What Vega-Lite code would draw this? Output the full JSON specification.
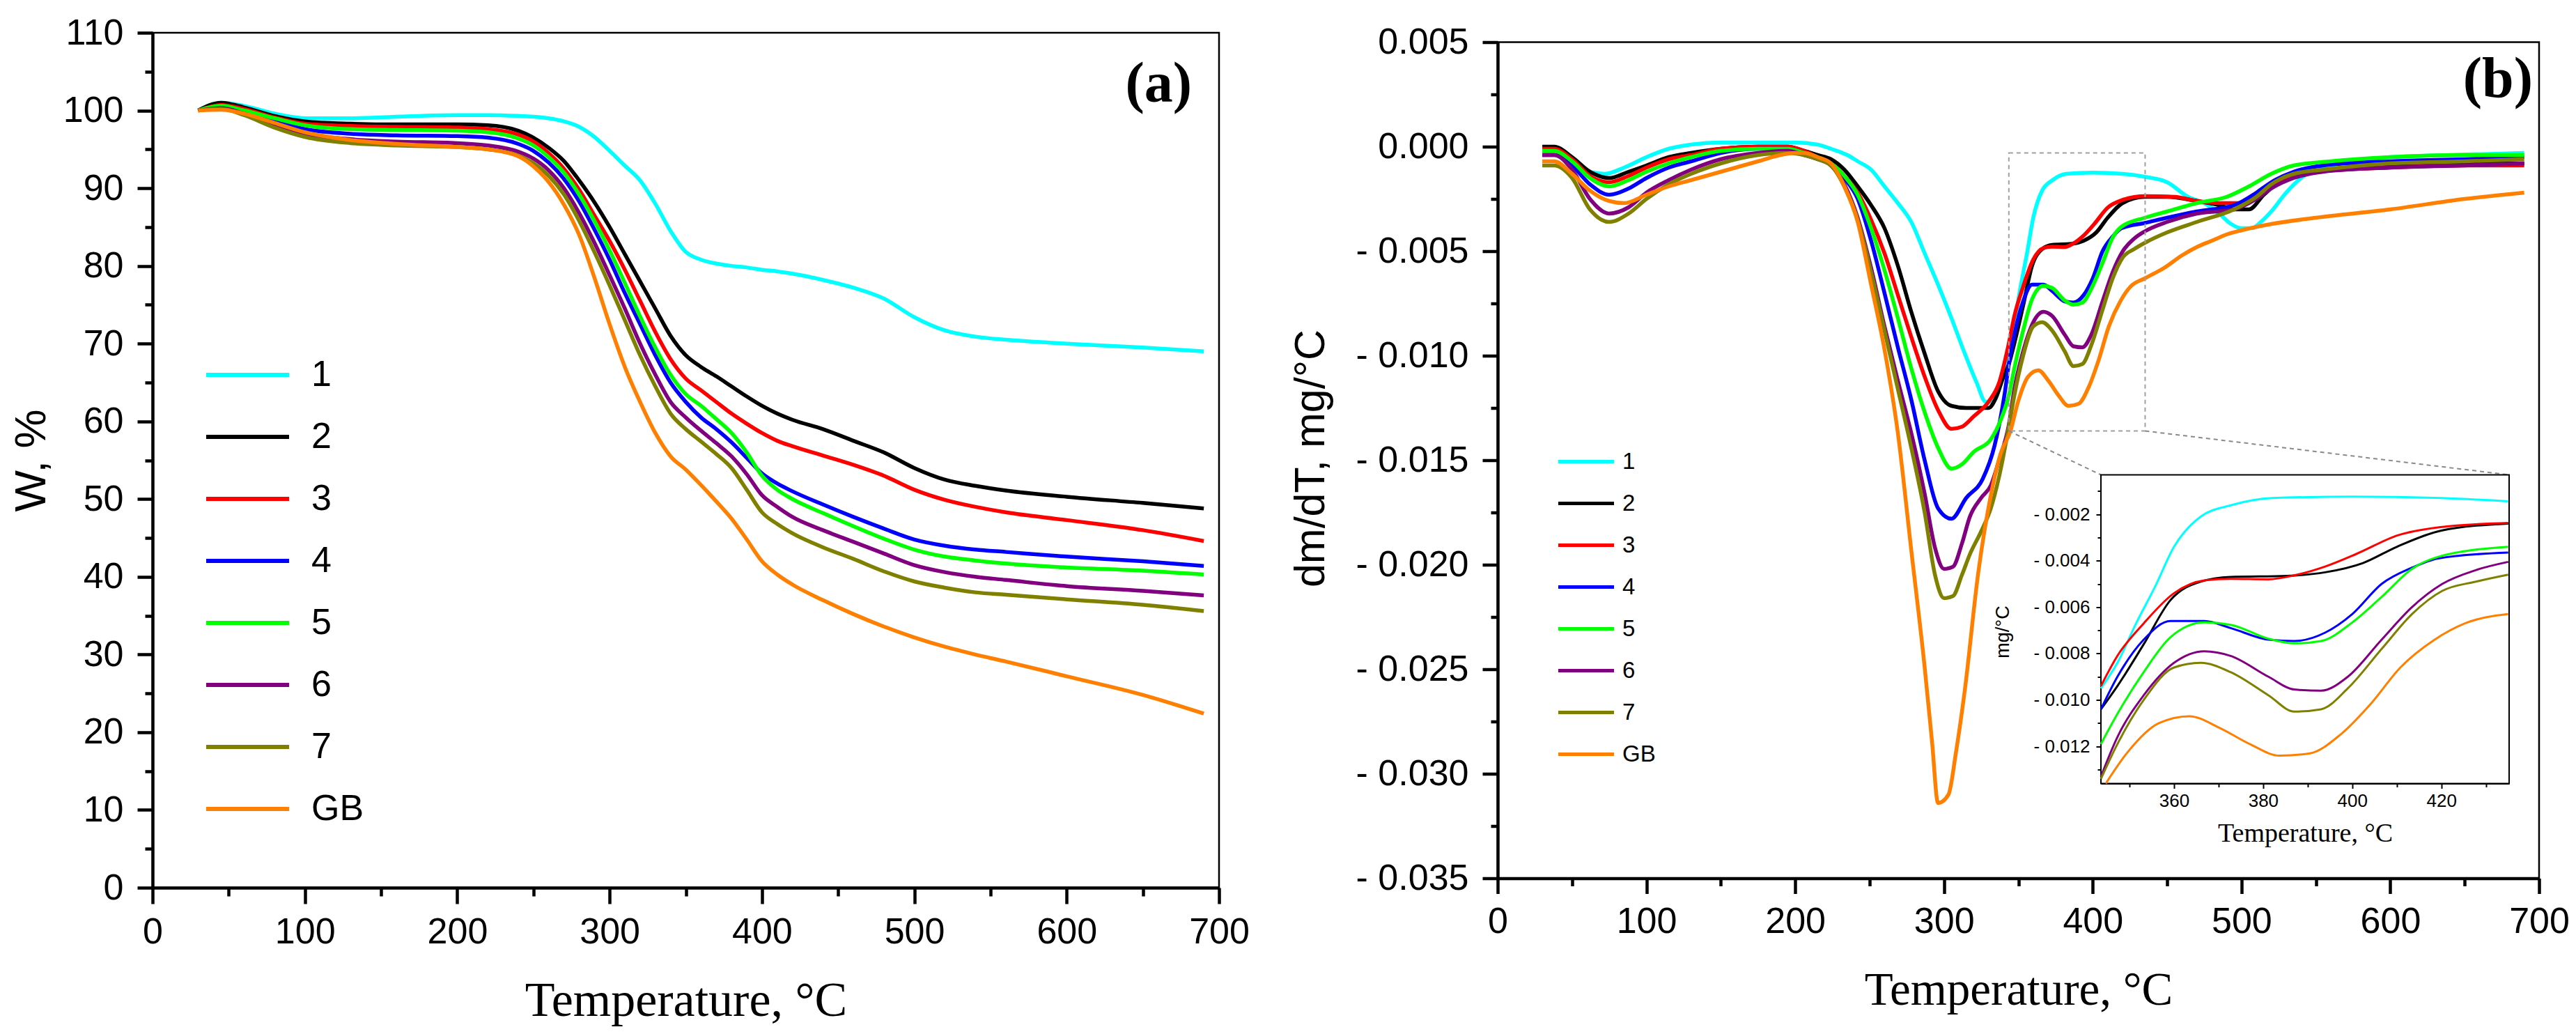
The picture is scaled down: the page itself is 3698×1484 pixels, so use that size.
{
  "$schema": "https://vega.github.io/schema/vega-lite/v6.json",
  "padding": {"left": 12, "top": 19, "right": 5, "bottom": 5},
  "background": "white",
  "datasets": {
    "tga": [
      {"s":"1","t":30,"w":100},{"s":"1","t":45,"w":101},{"s":"1","t":60,"w":100.6},{"s":"1","t":80,"w":99.6},{"s":"1","t":100,"w":99.0},{"s":"1","t":130,"w":99.0},{"s":"1","t":160,"w":99.2},{"s":"1","t":200,"w":99.4},{"s":"1","t":220,"w":99.4},{"s":"1","t":240,"w":99.3},{"s":"1","t":250,"w":99.2},{"s":"1","t":260,"w":99.0},{"s":"1","t":270,"w":98.6},{"s":"1","t":280,"w":97.9},{"s":"1","t":290,"w":96.6},{"s":"1","t":300,"w":94.8},{"s":"1","t":310,"w":92.9},{"s":"1","t":320,"w":91.0},{"s":"1","t":330,"w":88.0},{"s":"1","t":340,"w":84.5},{"s":"1","t":350,"w":81.8},{"s":"1","t":360,"w":80.8},{"s":"1","t":370,"w":80.3},{"s":"1","t":380,"w":80.0},{"s":"1","t":390,"w":79.8},{"s":"1","t":400,"w":79.5},{"s":"1","t":410,"w":79.3},{"s":"1","t":420,"w":79.0},{"s":"1","t":440,"w":78.2},{"s":"1","t":460,"w":77.2},{"s":"1","t":480,"w":75.8},{"s":"1","t":500,"w":73.4},{"s":"1","t":520,"w":71.7},{"s":"1","t":540,"w":70.9},{"s":"1","t":560,"w":70.5},{"s":"1","t":600,"w":70.0},{"s":"1","t":650,"w":69.5},{"s":"1","t":690,"w":69.0},
      {"s":"2","t":30,"w":100},{"s":"2","t":45,"w":101},{"s":"2","t":60,"w":100.4},{"s":"2","t":80,"w":99.3},{"s":"2","t":100,"w":98.6},{"s":"2","t":130,"w":98.3},{"s":"2","t":160,"w":98.2},{"s":"2","t":200,"w":98.2},{"s":"2","t":220,"w":98.1},{"s":"2","t":240,"w":97.4},{"s":"2","t":250,"w":96.5},{"s":"2","t":260,"w":95.2},{"s":"2","t":270,"w":93.5},{"s":"2","t":280,"w":91.0},{"s":"2","t":290,"w":88.2},{"s":"2","t":300,"w":85.0},{"s":"2","t":310,"w":81.5},{"s":"2","t":320,"w":78.0},{"s":"2","t":330,"w":74.5},{"s":"2","t":340,"w":71.0},{"s":"2","t":350,"w":68.5},{"s":"2","t":360,"w":67.0},{"s":"2","t":370,"w":65.8},{"s":"2","t":380,"w":64.5},{"s":"2","t":390,"w":63.2},{"s":"2","t":400,"w":62.0},{"s":"2","t":410,"w":61.0},{"s":"2","t":420,"w":60.2},{"s":"2","t":440,"w":59.0},{"s":"2","t":460,"w":57.5},{"s":"2","t":480,"w":56.0},{"s":"2","t":500,"w":54.0},{"s":"2","t":520,"w":52.5},{"s":"2","t":540,"w":51.7},{"s":"2","t":560,"w":51.1},{"s":"2","t":600,"w":50.3},{"s":"2","t":650,"w":49.5},{"s":"2","t":690,"w":48.8},
      {"s":"3","t":30,"w":100},{"s":"3","t":45,"w":100.7},{"s":"3","t":60,"w":100.2},{"s":"3","t":80,"w":99.1},{"s":"3","t":100,"w":98.3},{"s":"3","t":130,"w":98.0},{"s":"3","t":160,"w":97.9},{"s":"3","t":200,"w":97.8},{"s":"3","t":220,"w":97.6},{"s":"3","t":240,"w":96.9},{"s":"3","t":250,"w":96.0},{"s":"3","t":260,"w":94.5},{"s":"3","t":270,"w":92.5},{"s":"3","t":280,"w":89.8},{"s":"3","t":290,"w":86.5},{"s":"3","t":300,"w":83.2},{"s":"3","t":310,"w":79.5},{"s":"3","t":320,"w":75.5},{"s":"3","t":330,"w":71.5},{"s":"3","t":340,"w":68.0},{"s":"3","t":350,"w":65.5},{"s":"3","t":360,"w":64.0},{"s":"3","t":370,"w":62.5},{"s":"3","t":380,"w":61.0},{"s":"3","t":390,"w":59.7},{"s":"3","t":400,"w":58.5},{"s":"3","t":410,"w":57.5},{"s":"3","t":420,"w":56.8},{"s":"3","t":440,"w":55.6},{"s":"3","t":460,"w":54.4},{"s":"3","t":480,"w":53.0},{"s":"3","t":500,"w":51.2},{"s":"3","t":520,"w":49.9},{"s":"3","t":540,"w":49.0},{"s":"3","t":560,"w":48.3},{"s":"3","t":600,"w":47.3},{"s":"3","t":650,"w":46.0},{"s":"3","t":690,"w":44.6},
      {"s":"4","t":30,"w":100},{"s":"4","t":45,"w":100.5},{"s":"4","t":60,"w":99.9},{"s":"4","t":80,"w":98.7},{"s":"4","t":100,"w":97.6},{"s":"4","t":130,"w":97.0},{"s":"4","t":160,"w":96.8},{"s":"4","t":200,"w":96.7},{"s":"4","t":220,"w":96.5},{"s":"4","t":240,"w":95.7},{"s":"4","t":250,"w":94.8},{"s":"4","t":260,"w":93.3},{"s":"4","t":270,"w":91.2},{"s":"4","t":280,"w":88.3},{"s":"4","t":290,"w":84.7},{"s":"4","t":300,"w":80.8},{"s":"4","t":310,"w":76.5},{"s":"4","t":320,"w":72.5},{"s":"4","t":330,"w":68.5},{"s":"4","t":340,"w":65.0},{"s":"4","t":350,"w":62.5},{"s":"4","t":360,"w":60.5},{"s":"4","t":370,"w":59.0},{"s":"4","t":380,"w":57.3},{"s":"4","t":390,"w":55.3},{"s":"4","t":400,"w":53.3},{"s":"4","t":410,"w":52.0},{"s":"4","t":420,"w":51.0},{"s":"4","t":440,"w":49.3},{"s":"4","t":460,"w":47.7},{"s":"4","t":480,"w":46.2},{"s":"4","t":500,"w":44.8},{"s":"4","t":520,"w":44.0},{"s":"4","t":540,"w":43.5},{"s":"4","t":560,"w":43.2},{"s":"4","t":600,"w":42.6},{"s":"4","t":650,"w":42.0},{"s":"4","t":690,"w":41.4},
      {"s":"5","t":30,"w":100},{"s":"5","t":45,"w":100.6},{"s":"5","t":60,"w":100.0},{"s":"5","t":80,"w":99.0},{"s":"5","t":100,"w":98.1},{"s":"5","t":130,"w":97.6},{"s":"5","t":160,"w":97.5},{"s":"5","t":200,"w":97.4},{"s":"5","t":220,"w":97.2},{"s":"5","t":240,"w":96.4},{"s":"5","t":250,"w":95.5},{"s":"5","t":260,"w":94.0},{"s":"5","t":270,"w":92.0},{"s":"5","t":280,"w":89.2},{"s":"5","t":290,"w":85.8},{"s":"5","t":300,"w":82.0},{"s":"5","t":310,"w":77.8},{"s":"5","t":320,"w":73.5},{"s":"5","t":330,"w":69.5},{"s":"5","t":340,"w":66.0},{"s":"5","t":350,"w":63.5},{"s":"5","t":360,"w":62.0},{"s":"5","t":370,"w":60.3},{"s":"5","t":380,"w":58.5},{"s":"5","t":390,"w":56.0},{"s":"5","t":400,"w":53.0},{"s":"5","t":410,"w":51.2},{"s":"5","t":420,"w":50.0},{"s":"5","t":440,"w":48.2},{"s":"5","t":460,"w":46.5},{"s":"5","t":480,"w":44.9},{"s":"5","t":500,"w":43.5},{"s":"5","t":520,"w":42.6},{"s":"5","t":540,"w":42.1},{"s":"5","t":560,"w":41.7},{"s":"5","t":600,"w":41.2},{"s":"5","t":650,"w":40.8},{"s":"5","t":690,"w":40.3},
      {"s":"6","t":30,"w":100},{"s":"6","t":45,"w":100.3},{"s":"6","t":60,"w":99.6},{"s":"6","t":80,"w":98.2},{"s":"6","t":100,"w":97.0},{"s":"6","t":130,"w":96.3},{"s":"6","t":160,"w":96.0},{"s":"6","t":200,"w":95.8},{"s":"6","t":220,"w":95.5},{"s":"6","t":240,"w":94.7},{"s":"6","t":250,"w":93.8},{"s":"6","t":260,"w":92.3},{"s":"6","t":270,"w":90.0},{"s":"6","t":280,"w":86.8},{"s":"6","t":290,"w":83.0},{"s":"6","t":300,"w":78.8},{"s":"6","t":310,"w":74.5},{"s":"6","t":320,"w":70.0},{"s":"6","t":330,"w":66.0},{"s":"6","t":340,"w":62.5},{"s":"6","t":350,"w":60.5},{"s":"6","t":360,"w":58.8},{"s":"6","t":370,"w":57.2},{"s":"6","t":380,"w":55.5},{"s":"6","t":390,"w":53.2},{"s":"6","t":400,"w":50.5},{"s":"6","t":410,"w":49.0},{"s":"6","t":420,"w":47.7},{"s":"6","t":440,"w":46.0},{"s":"6","t":460,"w":44.5},{"s":"6","t":480,"w":43.0},{"s":"6","t":500,"w":41.5},{"s":"6","t":520,"w":40.6},{"s":"6","t":540,"w":40.0},{"s":"6","t":560,"w":39.6},{"s":"6","t":600,"w":38.8},{"s":"6","t":650,"w":38.2},{"s":"6","t":690,"w":37.6},
      {"s":"7","t":30,"w":100},{"s":"7","t":45,"w":100.2},{"s":"7","t":60,"w":99.4},{"s":"7","t":80,"w":97.8},{"s":"7","t":100,"w":96.6},{"s":"7","t":130,"w":95.8},{"s":"7","t":160,"w":95.5},{"s":"7","t":200,"w":95.3},{"s":"7","t":220,"w":95.0},{"s":"7","t":240,"w":94.2},{"s":"7","t":250,"w":93.2},{"s":"7","t":260,"w":91.6},{"s":"7","t":270,"w":89.2},{"s":"7","t":280,"w":85.8},{"s":"7","t":290,"w":81.8},{"s":"7","t":300,"w":77.5},{"s":"7","t":310,"w":73.0},{"s":"7","t":320,"w":68.5},{"s":"7","t":330,"w":64.5},{"s":"7","t":340,"w":61.0},{"s":"7","t":350,"w":59.0},{"s":"7","t":360,"w":57.4},{"s":"7","t":370,"w":55.8},{"s":"7","t":380,"w":54.0},{"s":"7","t":390,"w":51.2},{"s":"7","t":400,"w":48.3},{"s":"7","t":410,"w":46.8},{"s":"7","t":420,"w":45.6},{"s":"7","t":440,"w":43.8},{"s":"7","t":460,"w":42.3},{"s":"7","t":480,"w":40.7},{"s":"7","t":500,"w":39.4},{"s":"7","t":520,"w":38.6},{"s":"7","t":540,"w":38.0},{"s":"7","t":560,"w":37.7},{"s":"7","t":600,"w":37.1},{"s":"7","t":650,"w":36.4},{"s":"7","t":690,"w":35.6},
      {"s":"GB","t":30,"w":100},{"s":"GB","t":45,"w":100.1},{"s":"GB","t":60,"w":99.6},{"s":"GB","t":80,"w":98.4},{"s":"GB","t":100,"w":97.2},{"s":"GB","t":130,"w":96.2},{"s":"GB","t":160,"w":95.7},{"s":"GB","t":200,"w":95.3},{"s":"GB","t":220,"w":95.0},{"s":"GB","t":240,"w":94.1},{"s":"GB","t":250,"w":92.8},{"s":"GB","t":260,"w":90.8},{"s":"GB","t":270,"w":87.9},{"s":"GB","t":280,"w":84.0},{"s":"GB","t":290,"w":78.5},{"s":"GB","t":300,"w":72.5},{"s":"GB","t":310,"w":67.0},{"s":"GB","t":320,"w":62.5},{"s":"GB","t":330,"w":58.5},{"s":"GB","t":340,"w":55.5},{"s":"GB","t":350,"w":53.8},{"s":"GB","t":360,"w":51.8},{"s":"GB","t":370,"w":49.7},{"s":"GB","t":380,"w":47.5},{"s":"GB","t":390,"w":44.8},{"s":"GB","t":400,"w":42.0},{"s":"GB","t":410,"w":40.3},{"s":"GB","t":420,"w":39.0},{"s":"GB","t":440,"w":37.0},{"s":"GB","t":460,"w":35.2},{"s":"GB","t":480,"w":33.6},{"s":"GB","t":500,"w":32.2},{"s":"GB","t":520,"w":31.0},{"s":"GB","t":540,"w":30.0},{"s":"GB","t":560,"w":29.1},{"s":"GB","t":600,"w":27.2},{"s":"GB","t":650,"w":24.8},{"s":"GB","t":690,"w":22.4}
    ],
    "dtg": [
      {"s":"1","t":30,"v":-0.0003},{"s":"1","t":38,"v":-0.0003},{"s":"1","t":50,"v":-0.0007},{"s":"1","t":62,"v":-0.0012},{"s":"1","t":72,"v":-0.0013},{"s":"1","t":85,"v":-0.001},{"s":"1","t":100,"v":-0.0005},{"s":"1","t":115,"v":-0.0001},{"s":"1","t":130,"v":0.0001},{"s":"1","t":150,"v":0.0002},{"s":"1","t":175,"v":0.0002},{"s":"1","t":200,"v":0.0002},{"s":"1","t":215,"v":0.0001},{"s":"1","t":224,"v":-0.0001},{"s":"1","t":235,"v":-0.0004},{"s":"1","t":242,"v":-0.0007},{"s":"1","t":251,"v":-0.0011},{"s":"1","t":260,"v":-0.0019},{"s":"1","t":269,"v":-0.0027},{"s":"1","t":278,"v":-0.0036},{"s":"1","t":287,"v":-0.0051},{"s":"1","t":296,"v":-0.0066},{"s":"1","t":305,"v":-0.0082},{"s":"1","t":314,"v":-0.0099},{"s":"1","t":322,"v":-0.0113},{"s":"1","t":328,"v":-0.0122},{"s":"1","t":333,"v":-0.0122},{"s":"1","t":338,"v":-0.0113},{"s":"1","t":343.6,"v":-0.0095},{"s":"1","t":347.3,"v":-0.0084},{"s":"1","t":351.5,"v":-0.0067},{"s":"1","t":355.8,"v":-0.0051},{"s":"1","t":360,"v":-0.0034},{"s":"1","t":366,"v":-0.0021},{"s":"1","t":373,"v":-0.0016},{"s":"1","t":382,"v":-0.0013},{"s":"1","t":400,"v":-0.00124},{"s":"1","t":420,"v":-0.0013},{"s":"1","t":435,"v":-0.00144},{"s":"1","t":450,"v":-0.0017},{"s":"1","t":464,"v":-0.0024},{"s":"1","t":475,"v":-0.0027},{"s":"1","t":485,"v":-0.0032},{"s":"1","t":493,"v":-0.0037},{"s":"1","t":500,"v":-0.0039},{"s":"1","t":507,"v":-0.0039},{"s":"1","t":513,"v":-0.0036},{"s":"1","t":520,"v":-0.0031},{"s":"1","t":530,"v":-0.0022},{"s":"1","t":540,"v":-0.0015},{"s":"1","t":555,"v":-0.001},{"s":"1","t":575,"v":-0.0007},{"s":"1","t":600,"v":-0.0005},{"s":"1","t":640,"v":-0.0004},{"s":"1","t":690,"v":-0.0003},
      {"s":"2","t":30,"v":0},{"s":"2","t":38,"v":0},{"s":"2","t":50,"v":-0.0005},{"s":"2","t":62,"v":-0.0012},{"s":"2","t":75,"v":-0.0015},{"s":"2","t":88,"v":-0.0012},{"s":"2","t":100,"v":-0.0009},{"s":"2","t":115,"v":-0.0005},{"s":"2","t":130,"v":-0.0003},{"s":"2","t":150,"v":-0.0001},{"s":"2","t":175,"v":0},{"s":"2","t":195,"v":0},{"s":"2","t":206,"v":-0.0002},{"s":"2","t":215,"v":-0.0004},{"s":"2","t":224,"v":-0.0006},{"s":"2","t":233,"v":-0.0011},{"s":"2","t":242,"v":-0.0019},{"s":"2","t":251,"v":-0.0028},{"s":"2","t":260,"v":-0.0039},{"s":"2","t":269,"v":-0.0057},{"s":"2","t":278,"v":-0.0079},{"s":"2","t":287,"v":-0.0099},{"s":"2","t":296,"v":-0.0117},{"s":"2","t":305,"v":-0.0124},{"s":"2","t":315,"v":-0.0125},{"s":"2","t":325,"v":-0.0125},{"s":"2","t":330,"v":-0.0125},{"s":"2","t":335,"v":-0.012},{"s":"2","t":340,"v":-0.011},{"s":"2","t":343.6,"v":-0.0104},{"s":"2","t":347.3,"v":-0.0094},{"s":"2","t":353.2,"v":-0.0076},{"s":"2","t":359.2,"v":-0.0057},{"s":"2","t":366,"v":-0.0049},{"s":"2","t":372.7,"v":-0.0047},{"s":"2","t":385.4,"v":-0.00465},{"s":"2","t":393.9,"v":-0.0045},{"s":"2","t":402.4,"v":-0.0041},{"s":"2","t":410,"v":-0.0034},{"s":"2","t":420,"v":-0.0027},{"s":"2","t":435,"v":-0.0024},{"s":"2","t":450,"v":-0.0024},{"s":"2","t":470,"v":-0.0026},{"s":"2","t":485,"v":-0.0028},{"s":"2","t":495,"v":-0.003},{"s":"2","t":505,"v":-0.003},{"s":"2","t":515,"v":-0.0023},{"s":"2","t":525,"v":-0.0017},{"s":"2","t":540,"v":-0.0013},{"s":"2","t":560,"v":-0.0011},{"s":"2","t":600,"v":-0.0009},{"s":"2","t":650,"v":-0.0008},{"s":"2","t":690,"v":-0.0008},
      {"s":"3","t":30,"v":-0.0001},{"s":"3","t":38,"v":-0.0001},{"s":"3","t":50,"v":-0.0006},{"s":"3","t":62,"v":-0.0014},{"s":"3","t":75,"v":-0.0017},{"s":"3","t":88,"v":-0.0014},{"s":"3","t":100,"v":-0.001},{"s":"3","t":115,"v":-0.0006},{"s":"3","t":130,"v":-0.0004},{"s":"3","t":150,"v":-0.0001},{"s":"3","t":175,"v":0},{"s":"3","t":195,"v":0},{"s":"3","t":206,"v":-0.0002},{"s":"3","t":215,"v":-0.0005},{"s":"3","t":224,"v":-0.0008},{"s":"3","t":233,"v":-0.0014},{"s":"3","t":242,"v":-0.0022},{"s":"3","t":251,"v":-0.0035},{"s":"3","t":260,"v":-0.0051},{"s":"3","t":269,"v":-0.0071},{"s":"3","t":278,"v":-0.0091},{"s":"3","t":287,"v":-0.011},{"s":"3","t":296,"v":-0.0126},{"s":"3","t":305,"v":-0.0135},{"s":"3","t":312,"v":-0.0134},{"s":"3","t":320,"v":-0.0129},{"s":"3","t":330,"v":-0.0122},{"s":"3","t":337,"v":-0.0113},{"s":"3","t":343.6,"v":-0.0094},{"s":"3","t":347.3,"v":-0.0081},{"s":"3","t":353.2,"v":-0.0067},{"s":"3","t":360,"v":-0.0054},{"s":"3","t":366.8,"v":-0.00485},{"s":"3","t":372.7,"v":-0.00478},{"s":"3","t":381.2,"v":-0.0048},{"s":"3","t":387,"v":-0.00463},{"s":"3","t":393.9,"v":-0.00425},{"s":"3","t":401,"v":-0.0037},{"s":"3","t":410.3,"v":-0.0029},{"s":"3","t":419.5,"v":-0.00256},{"s":"3","t":435,"v":-0.00237},{"s":"3","t":455,"v":-0.0024},{"s":"3","t":470,"v":-0.0026},{"s":"3","t":485,"v":-0.0027},{"s":"3","t":500,"v":-0.0027},{"s":"3","t":515,"v":-0.0021},{"s":"3","t":530,"v":-0.0015},{"s":"3","t":550,"v":-0.0012},{"s":"3","t":600,"v":-0.001},{"s":"3","t":650,"v":-0.0009},{"s":"3","t":690,"v":-0.0009},
      {"s":"4","t":30,"v":-0.0004},{"s":"4","t":38,"v":-0.0004},{"s":"4","t":50,"v":-0.0009},{"s":"4","t":62,"v":-0.0018},{"s":"4","t":75,"v":-0.0023},{"s":"4","t":88,"v":-0.002},{"s":"4","t":100,"v":-0.0015},{"s":"4","t":115,"v":-0.001},{"s":"4","t":130,"v":-0.0007},{"s":"4","t":150,"v":-0.0003},{"s":"4","t":175,"v":-0.0001},{"s":"4","t":195,"v":-0.0001},{"s":"4","t":206,"v":-0.0003},{"s":"4","t":215,"v":-0.0005},{"s":"4","t":224,"v":-0.0008},{"s":"4","t":233,"v":-0.0015},{"s":"4","t":242,"v":-0.0025},{"s":"4","t":251,"v":-0.0045},{"s":"4","t":260,"v":-0.007},{"s":"4","t":269,"v":-0.0096},{"s":"4","t":278,"v":-0.0121},{"s":"4","t":287,"v":-0.015},{"s":"4","t":296,"v":-0.0173},{"s":"4","t":305,"v":-0.0178},{"s":"4","t":315,"v":-0.0168},{"s":"4","t":326,"v":-0.0159},{"s":"4","t":334,"v":-0.0143},{"s":"4","t":340.6,"v":-0.0119},{"s":"4","t":343.6,"v":-0.0104},{"s":"4","t":347.3,"v":-0.009},{"s":"4","t":353.2,"v":-0.0074},{"s":"4","t":359.2,"v":-0.0066},{"s":"4","t":366.8,"v":-0.0066},{"s":"4","t":372.7,"v":-0.0069},{"s":"4","t":381.2,"v":-0.0074},{"s":"4","t":387,"v":-0.00746},{"s":"4","t":393.9,"v":-0.0071},{"s":"4","t":400,"v":-0.0063},{"s":"4","t":406.6,"v":-0.005},{"s":"4","t":413.4,"v":-0.0043},{"s":"4","t":419.3,"v":-0.0039},{"s":"4","t":435,"v":-0.00365},{"s":"4","t":450,"v":-0.0034},{"s":"4","t":470,"v":-0.0031},{"s":"4","t":495,"v":-0.0028},{"s":"4","t":510,"v":-0.0022},{"s":"4","t":520,"v":-0.0017},{"s":"4","t":535,"v":-0.0012},{"s":"4","t":555,"v":-0.0009},{"s":"4","t":600,"v":-0.0007},{"s":"4","t":650,"v":-0.0006},{"s":"4","t":690,"v":-0.0005},
      {"s":"5","t":30,"v":-0.0002},{"s":"5","t":38,"v":-0.0002},{"s":"5","t":50,"v":-0.0007},{"s":"5","t":62,"v":-0.0015},{"s":"5","t":75,"v":-0.0019},{"s":"5","t":88,"v":-0.0016},{"s":"5","t":100,"v":-0.0012},{"s":"5","t":115,"v":-0.0008},{"s":"5","t":130,"v":-0.0005},{"s":"5","t":150,"v":-0.0002},{"s":"5","t":175,"v":-0.0001},{"s":"5","t":195,"v":-0.0001},{"s":"5","t":206,"v":-0.0003},{"s":"5","t":215,"v":-0.0005},{"s":"5","t":224,"v":-0.0008},{"s":"5","t":233,"v":-0.0014},{"s":"5","t":242,"v":-0.0023},{"s":"5","t":251,"v":-0.0039},{"s":"5","t":260,"v":-0.0059},{"s":"5","t":269,"v":-0.0082},{"s":"5","t":278,"v":-0.0106},{"s":"5","t":287,"v":-0.0127},{"s":"5","t":296,"v":-0.0144},{"s":"5","t":305,"v":-0.0154},{"s":"5","t":312,"v":-0.0152},{"s":"5","t":320,"v":-0.0146},{"s":"5","t":331.5,"v":-0.014},{"s":"5","t":338,"v":-0.0131},{"s":"5","t":343.6,"v":-0.0119},{"s":"5","t":347.3,"v":-0.0106},{"s":"5","t":353.2,"v":-0.0088},{"s":"5","t":359.2,"v":-0.0073},{"s":"5","t":366.8,"v":-0.00666},{"s":"5","t":372.7,"v":-0.00676},{"s":"5","t":381.2,"v":-0.00736},{"s":"5","t":387,"v":-0.00756},{"s":"5","t":393,"v":-0.00746},{"s":"5","t":400,"v":-0.00666},{"s":"5","t":406.6,"v":-0.00556},{"s":"5","t":413.4,"v":-0.00435},{"s":"5","t":419.3,"v":-0.00383},{"s":"5","t":435,"v":-0.0034},{"s":"5","t":450,"v":-0.0031},{"s":"5","t":470,"v":-0.0027},{"s":"5","t":490,"v":-0.0024},{"s":"5","t":505,"v":-0.0019},{"s":"5","t":520,"v":-0.0013},{"s":"5","t":535,"v":-0.0009},{"s":"5","t":560,"v":-0.0007},{"s":"5","t":600,"v":-0.0005},{"s":"5","t":650,"v":-0.0004},{"s":"5","t":690,"v":-0.0004},
      {"s":"6","t":30,"v":-0.0004},{"s":"6","t":38,"v":-0.0004},{"s":"6","t":50,"v":-0.0011},{"s":"6","t":62,"v":-0.0025},{"s":"6","t":75,"v":-0.0032},{"s":"6","t":88,"v":-0.0029},{"s":"6","t":100,"v":-0.0022},{"s":"6","t":115,"v":-0.0016},{"s":"6","t":130,"v":-0.0011},{"s":"6","t":150,"v":-0.0006},{"s":"6","t":175,"v":-0.0003},{"s":"6","t":195,"v":-0.0002},{"s":"6","t":206,"v":-0.0004},{"s":"6","t":215,"v":-0.0006},{"s":"6","t":224,"v":-0.0009},{"s":"6","t":233,"v":-0.0018},{"s":"6","t":242,"v":-0.0034},{"s":"6","t":251,"v":-0.0058},{"s":"6","t":260,"v":-0.0086},{"s":"6","t":269,"v":-0.0112},{"s":"6","t":278,"v":-0.0137},{"s":"6","t":287,"v":-0.0166},{"s":"6","t":294,"v":-0.0192},{"s":"6","t":300,"v":-0.0202},{"s":"6","t":306,"v":-0.0201},{"s":"6","t":312,"v":-0.019},{"s":"6","t":317.4,"v":-0.0177},{"s":"6","t":325,"v":-0.0168},{"s":"6","t":331.5,"v":-0.0162},{"s":"6","t":337,"v":-0.015},{"s":"6","t":343.6,"v":-0.0133},{"s":"6","t":347.3,"v":-0.0116},{"s":"6","t":353.2,"v":-0.0098},{"s":"6","t":360,"v":-0.0084},{"s":"6","t":366.8,"v":-0.0079},{"s":"6","t":372.7,"v":-0.0081},{"s":"6","t":381.2,"v":-0.009},{"s":"6","t":387,"v":-0.00955},{"s":"6","t":393,"v":-0.0096},{"s":"6","t":399,"v":-0.009},{"s":"6","t":406.6,"v":-0.0074},{"s":"6","t":413.4,"v":-0.006},{"s":"6","t":420.2,"v":-0.005},{"s":"6","t":427.8,"v":-0.0044},{"s":"6","t":435,"v":-0.00405},{"s":"6","t":450,"v":-0.0036},{"s":"6","t":470,"v":-0.0032},{"s":"6","t":495,"v":-0.003},{"s":"6","t":510,"v":-0.0025},{"s":"6","t":520,"v":-0.002},{"s":"6","t":535,"v":-0.0015},{"s":"6","t":555,"v":-0.0012},{"s":"6","t":600,"v":-0.001},{"s":"6","t":650,"v":-0.0009},{"s":"6","t":690,"v":-0.0008},
      {"s":"7","t":30,"v":-0.0009},{"s":"7","t":38,"v":-0.0009},{"s":"7","t":50,"v":-0.0015},{"s":"7","t":62,"v":-0.003},{"s":"7","t":75,"v":-0.0036},{"s":"7","t":88,"v":-0.0032},{"s":"7","t":100,"v":-0.0025},{"s":"7","t":115,"v":-0.0018},{"s":"7","t":130,"v":-0.0013},{"s":"7","t":150,"v":-0.0008},{"s":"7","t":175,"v":-0.0004},{"s":"7","t":195,"v":-0.0003},{"s":"7","t":206,"v":-0.0004},{"s":"7","t":215,"v":-0.0006},{"s":"7","t":224,"v":-0.0009},{"s":"7","t":233,"v":-0.0019},{"s":"7","t":242,"v":-0.0035},{"s":"7","t":251,"v":-0.006},{"s":"7","t":260,"v":-0.0088},{"s":"7","t":269,"v":-0.0116},{"s":"7","t":278,"v":-0.0144},{"s":"7","t":287,"v":-0.0175},{"s":"7","t":294,"v":-0.0205},{"s":"7","t":300,"v":-0.0216},{"s":"7","t":306,"v":-0.0215},{"s":"7","t":312,"v":-0.0205},{"s":"7","t":317.4,"v":-0.0195},{"s":"7","t":325,"v":-0.0184},{"s":"7","t":331.5,"v":-0.0173},{"s":"7","t":337,"v":-0.0158},{"s":"7","t":343.6,"v":-0.0134},{"s":"7","t":347.3,"v":-0.0119},{"s":"7","t":353.2,"v":-0.01},{"s":"7","t":360,"v":-0.0086},{"s":"7","t":366,"v":-0.0084},{"s":"7","t":372.7,"v":-0.0088},{"s":"7","t":381.2,"v":-0.0098},{"s":"7","t":387,"v":-0.0105},{"s":"7","t":393,"v":-0.0104},{"s":"7","t":399,"v":-0.0095},{"s":"7","t":406.6,"v":-0.0078},{"s":"7","t":413.4,"v":-0.0063},{"s":"7","t":420.2,"v":-0.0053},{"s":"7","t":427.8,"v":-0.0049},{"s":"7","t":435,"v":-0.0046},{"s":"7","t":450,"v":-0.0041},{"s":"7","t":470,"v":-0.0036},{"s":"7","t":495,"v":-0.003},{"s":"7","t":510,"v":-0.0024},{"s":"7","t":520,"v":-0.0018},{"s":"7","t":535,"v":-0.0013},{"s":"7","t":555,"v":-0.0011},{"s":"7","t":600,"v":-0.0008},{"s":"7","t":650,"v":-0.0007},{"s":"7","t":690,"v":-0.0006},
      {"s":"GB","t":30,"v":-0.0007},{"s":"GB","t":38,"v":-0.0007},{"s":"GB","t":50,"v":-0.0013},{"s":"GB","t":62,"v":-0.0021},{"s":"GB","t":75,"v":-0.0026},{"s":"GB","t":85,"v":-0.0027},{"s":"GB","t":100,"v":-0.0023},{"s":"GB","t":115,"v":-0.0019},{"s":"GB","t":130,"v":-0.0016},{"s":"GB","t":150,"v":-0.0012},{"s":"GB","t":175,"v":-0.0007},{"s":"GB","t":190,"v":-0.0004},{"s":"GB","t":200,"v":-0.0003},{"s":"GB","t":206,"v":-0.0003},{"s":"GB","t":215,"v":-0.0005},{"s":"GB","t":224,"v":-0.0008},{"s":"GB","t":233,"v":-0.0019},{"s":"GB","t":242,"v":-0.0036},{"s":"GB","t":251,"v":-0.0066},{"s":"GB","t":260,"v":-0.0097},{"s":"GB","t":269,"v":-0.0137},{"s":"GB","t":278,"v":-0.0193},{"s":"GB","t":287,"v":-0.0249},{"s":"GB","t":292,"v":-0.0285},{"s":"GB","t":296,"v":-0.0314},{"s":"GB","t":303,"v":-0.031},{"s":"GB","t":308,"v":-0.029},{"s":"GB","t":314,"v":-0.026},{"s":"GB","t":323,"v":-0.0204},{"s":"GB","t":331.7,"v":-0.0166},{"s":"GB","t":338,"v":-0.0147},{"s":"GB","t":344.7,"v":-0.0136},{"s":"GB","t":349.8,"v":-0.0122},{"s":"GB","t":356.6,"v":-0.011},{"s":"GB","t":363.4,"v":-0.0107},{"s":"GB","t":370.2,"v":-0.0112},{"s":"GB","t":377,"v":-0.0119},{"s":"GB","t":383.7,"v":-0.0124},{"s":"GB","t":390.5,"v":-0.0123},{"s":"GB","t":397.3,"v":-0.0115},{"s":"GB","t":404,"v":-0.0102},{"s":"GB","t":410.8,"v":-0.0086},{"s":"GB","t":418.5,"v":-0.0074},{"s":"GB","t":425.3,"v":-0.0067},{"s":"GB","t":435,"v":-0.0063},{"s":"GB","t":448,"v":-0.0058},{"s":"GB","t":460,"v":-0.0052},{"s":"GB","t":470,"v":-0.0048},{"s":"GB","t":480,"v":-0.0045},{"s":"GB","t":490,"v":-0.0042},{"s":"GB","t":500,"v":-0.004},{"s":"GB","t":520,"v":-0.0037},{"s":"GB","t":550,"v":-0.0034},{"s":"GB","t":600,"v":-0.003},{"s":"GB","t":650,"v":-0.0025},{"s":"GB","t":690,"v":-0.0022}
    ]
  },
  "hconcat": [
    {
      "width": 1531,
      "height": 1227,
      "data": {"name": "tga"},
      "layer": [
        {
          "mark": {"type": "line", "strokeWidth": 5.5, "interpolate": "monotone"},
          "encoding": {
            "x": {"field": "t", "type": "quantitative", "scale": {"domain": [0, 700], "nice": false},
              "axis": {"orient": "bottom", "values": [0,100,200,300,400,500,600,700], "tickSize": 23, "labelPadding": 15, "labelFlush": false, "labelOverlap": false,
                "title": "Temperature, °C", "titleFont": "Liberation Serif", "titleFontSize": 70, "titleBaseline": "alphabetic", "titleX": 765.5, "titleY": 183}},
            "y": {"field": "w", "type": "quantitative", "scale": {"domain": [0, 110], "nice": false, "zero": false},
              "axis": {"orient": "left", "values": [0,10,20,30,40,50,60,70,80,90,100,110], "tickSize": 22, "labelPadding": 20, "labelFlush": false, "labelOverlap": false,
                "title": "W, %", "titleFont": "Liberation Sans", "titleFontSize": 63, "titleBaseline": "alphabetic", "titleX": -155, "titleY": 613.5}},
            "color": {"field": "s", "type": "nominal",
              "scale": {"domain": ["1","2","3","4","5","6","7","GB"], "range": ["#00FFFF","#000000","#FF0000","#0000FF","#00FF00","#800080","#808000","#FF8000"]},
              "legend": {"orient": "none", "legendX": 74, "legendY": 428.5, "title": null, "symbolType": "stroke", "symbolSize": 14161, "symbolStrokeWidth": 6, "rowPadding": -60.2, "labelFontSize": 52, "labelFont": "Liberation Sans", "labelOffset": 29, "padding": 0}}
          }
        },
        {
          "mark": {"type": "point", "opacity": 0},
          "encoding": {
            "x": {"field": "t", "type": "quantitative", "axis": {"orient": "bottom", "values": [50,150,250,350,450,550,650], "tickSize": 12, "labels": false, "domain": false, "title": null}},
            "y": {"field": "w", "type": "quantitative", "axis": {"orient": "left", "values": [5,15,25,35,45,55,65,75,85,95,105], "tickSize": 11, "labels": false, "domain": false, "title": null}}
          }
        },
        {
          "data": {"values": [{"lab": "(a)"}]},
          "mark": {"type": "text", "font": "Liberation Serif", "fontWeight": "bold", "fontSize": 82, "align": "right", "baseline": "middle", "dx": -39, "dy": 74, "color": "black"},
          "encoding": {
            "x": {"datum": 700, "type": "quantitative", "axis": null},
            "y": {"datum": 110, "type": "quantitative", "axis": null},
            "text": {"field": "lab"}
          }
        }
      ],
      "resolve": {"axis": {"x": "independent", "y": "independent"}}
    },
    {
      "width": 1495,
      "height": 1200,
      "data": {"name": "dtg"},
      "layer": [
        {
          "layer": [
            {
              "mark": {"type": "line", "strokeWidth": 5.5, "interpolate": "monotone"},
              "encoding": {
                "x": {"field": "t", "type": "quantitative", "scale": {"domain": [0, 700], "nice": false},
                  "axis": {"orient": "bottom", "values": [0,100,200,300,400,500,600,700], "tickSize": 22, "labelPadding": 15, "labelFlush": false, "labelOverlap": false,
                    "title": "Temperature, °C", "titleFont": "Liberation Serif", "titleFontSize": 67, "titleBaseline": "alphabetic", "titleX": 747.5, "titleY": 181}},
                "y": {"field": "v", "type": "quantitative", "scale": {"domain": [-0.035, 0.005], "nice": false, "zero": false},
                  "axis": {"orient": "left", "values": [0.005,0,-0.005,-0.01,-0.015,-0.02,-0.025,-0.03,-0.035], "tickSize": 22, "labelPadding": 20, "labelFlush": false, "labelOverlap": false,
                    "labelExpr": "datum.value < -0.000001 ? '- ' + format(-datum.value, '.3f') : format(datum.value, '.3f')",
                    "title": "dm/dT, mg/°C", "titleFont": "Liberation Sans", "titleFontSize": 61, "titleBaseline": "alphabetic", "titleX": -250, "titleY": 597}},
                "color": {"field": "s", "type": "nominal",
                  "scale": {"domain": ["1","2","3","4","5","6","7","GB"], "range": ["#00FFFF","#000000","#FF0000","#0000FF","#00FF00","#800080","#808000","#FF8000"]},
                  "legend": {"orient": "none", "legendX": 84.5, "legendY": 559.5, "title": null, "symbolType": "stroke", "symbolSize": 6400, "symbolStrokeWidth": 5, "rowPadding": -42.4, "labelFontSize": 33, "labelFont": "Liberation Sans", "labelOffset": 9.5, "padding": 0}}
              }
            },
            {
              "mark": {"type": "point", "opacity": 0},
              "encoding": {
                "x": {"field": "t", "type": "quantitative", "axis": {"orient": "bottom", "values": [50,150,250,350,450,550,650], "tickSize": 11, "labels": false, "domain": false, "title": null}},
                "y": {"field": "v", "type": "quantitative", "axis": {"orient": "left", "values": [0.0025,-0.0025,-0.0075,-0.0125,-0.0175,-0.0225,-0.0275,-0.0325], "tickSize": 10, "labels": false, "domain": false, "title": null}}
              }
            },
            {
              "data": {"values": [{"x1": 343.6, "x2": 435.2, "y1": -0.0136, "y2": -0.0003}]},
              "mark": {"type": "rect", "fillOpacity": 0, "stroke": "#a0a0a0", "strokeWidth": 2, "strokeDash": [6, 5]},
              "encoding": {
                "x": {"field": "x1", "type": "quantitative", "axis": null},
                "x2": {"field": "x2"},
                "y": {"field": "y1", "type": "quantitative", "axis": null},
                "y2": {"field": "y2"}
              }
            },
            {
              "data": {"values": [
                {"x1": 343.6, "y1": -0.0136, "x2": 405.5, "y2": -0.0157},
                {"x1": 435.2, "y1": -0.0136, "x2": 679.9, "y2": -0.0157}
              ]},
              "mark": {"type": "rule", "stroke": "#8a8a8a", "strokeWidth": 2, "strokeDash": [6, 5]},
              "encoding": {
                "x": {"field": "x1", "type": "quantitative", "axis": null},
                "y": {"field": "y1", "type": "quantitative", "axis": null},
                "x2": {"field": "x2"},
                "y2": {"field": "y2"}
              }
            },
            {
              "data": {"values": [{"lab": "(b)"}]},
              "mark": {"type": "text", "font": "Liberation Serif", "fontWeight": "bold", "fontSize": 82, "align": "right", "baseline": "middle", "dx": -9, "dy": 53, "color": "black"},
              "encoding": {
                "x": {"datum": 700, "type": "quantitative", "axis": null},
                "y": {"datum": 0.005, "type": "quantitative", "axis": null},
                "text": {"field": "lab"}
              }
            }
          ],
          "resolve": {"axis": {"x": "independent", "y": "independent"}}
        },
        {
          "layer": [
            {
              "data": {"values": [{"x1": 343.6, "x2": 435.2, "y1": -0.0136, "y2": -0.0003}]},
              "mark": {"type": "rect", "fill": "white", "stroke": "black", "strokeWidth": 2},
              "encoding": {
                "x": {"field": "x1", "type": "quantitative", "scale": {"domain": [343.6, 435.2], "range": [866, 1452], "nice": false, "zero": false}, "axis": null},
                "x2": {"field": "x2"},
                "y": {"field": "y1", "type": "quantitative", "scale": {"domain": [-0.0136, -0.0003], "range": [1064, 621], "nice": false, "zero": false}, "axis": null},
                "y2": {"field": "y2"}
              }
            },
            {
              "transform": [{"filter": "datum.t >= 343.5 && datum.t <= 435.3 && datum.v >= -0.01361 && datum.v <= -0.0003"}],
              "mark": {"type": "line", "strokeWidth": 3, "interpolate": "monotone"},
              "encoding": {
                "x": {"field": "t", "type": "quantitative",
                  "axis": {"orient": "bottom", "offset": -136, "values": [360,380,400,420], "tickSize": 7, "tickWidth": 2, "domainWidth": 2, "labelFontSize": 26, "labelPadding": 5, "labelFlush": false, "labelOverlap": false,
                    "title": "Temperature, °C", "titleFont": "Liberation Serif", "titleFontSize": 38, "titleBaseline": "alphabetic", "titleX": 1159, "titleY": 83}},
                "y": {"field": "v", "type": "quantitative",
                  "axis": {"orient": "left", "offset": -866, "values": [-0.002,-0.004,-0.006,-0.008,-0.01,-0.012], "tickSize": 7, "tickWidth": 2, "domainWidth": 2, "labelFontSize": 26, "labelPadding": 9, "labelFlush": false, "labelOverlap": false,
                    "labelExpr": "'- ' + format(-datum.value, '.3f')",
                    "title": "mg/°C", "titleFont": "Liberation Sans", "titleFontSize": 27, "titleBaseline": "alphabetic", "titleX": -133, "titleY": 846}},
                "color": {"field": "s", "type": "nominal", "legend": null}
              }
            },
            {
              "transform": [{"filter": "datum.t >= 343.5 && datum.t <= 435.3 && datum.v >= -0.01361 && datum.v <= -0.0003"}],
              "mark": {"type": "point", "opacity": 0},
              "encoding": {
                "x": {"field": "t", "type": "quantitative", "axis": {"orient": "bottom", "offset": -136, "values": [350,370,390,410,430], "tickSize": 5, "tickWidth": 2, "labels": false, "domain": false, "title": null}},
                "y": {"field": "v", "type": "quantitative", "axis": {"orient": "left", "offset": -866, "values": [-0.001,-0.003,-0.005,-0.007,-0.009,-0.011,-0.013], "tickSize": 5, "tickWidth": 2, "labels": false, "domain": false, "title": null}}
              }
            }
          ],
          "resolve": {"axis": {"x": "independent", "y": "independent"}}
        }
      ],
      "resolve": {"scale": {"x": "independent", "y": "independent"}, "axis": {"x": "independent", "y": "independent"}, "legend": {"color": "independent"}}
    }
  ],
  "spacing": 400,
  "bounds": "flush",
  "center": true,
  "resolve": {"scale": {"x": "independent", "y": "independent", "color": "independent"}, "legend": {"color": "independent"}},
  "config": {
    "view": {"stroke": "black", "strokeWidth": 2.5},
    "axis": {"grid": false, "domainColor": "black", "domainWidth": 4.5, "tickColor": "black", "tickWidth": 4.5, "labelColor": "black", "labelFont": "Liberation Sans", "labelFontSize": 52, "titleColor": "black", "titleFontWeight": "normal"},
    "legend": {"labelColor": "black", "symbolOpacity": 1},
    "text": {"color": "black"}
  }
}
